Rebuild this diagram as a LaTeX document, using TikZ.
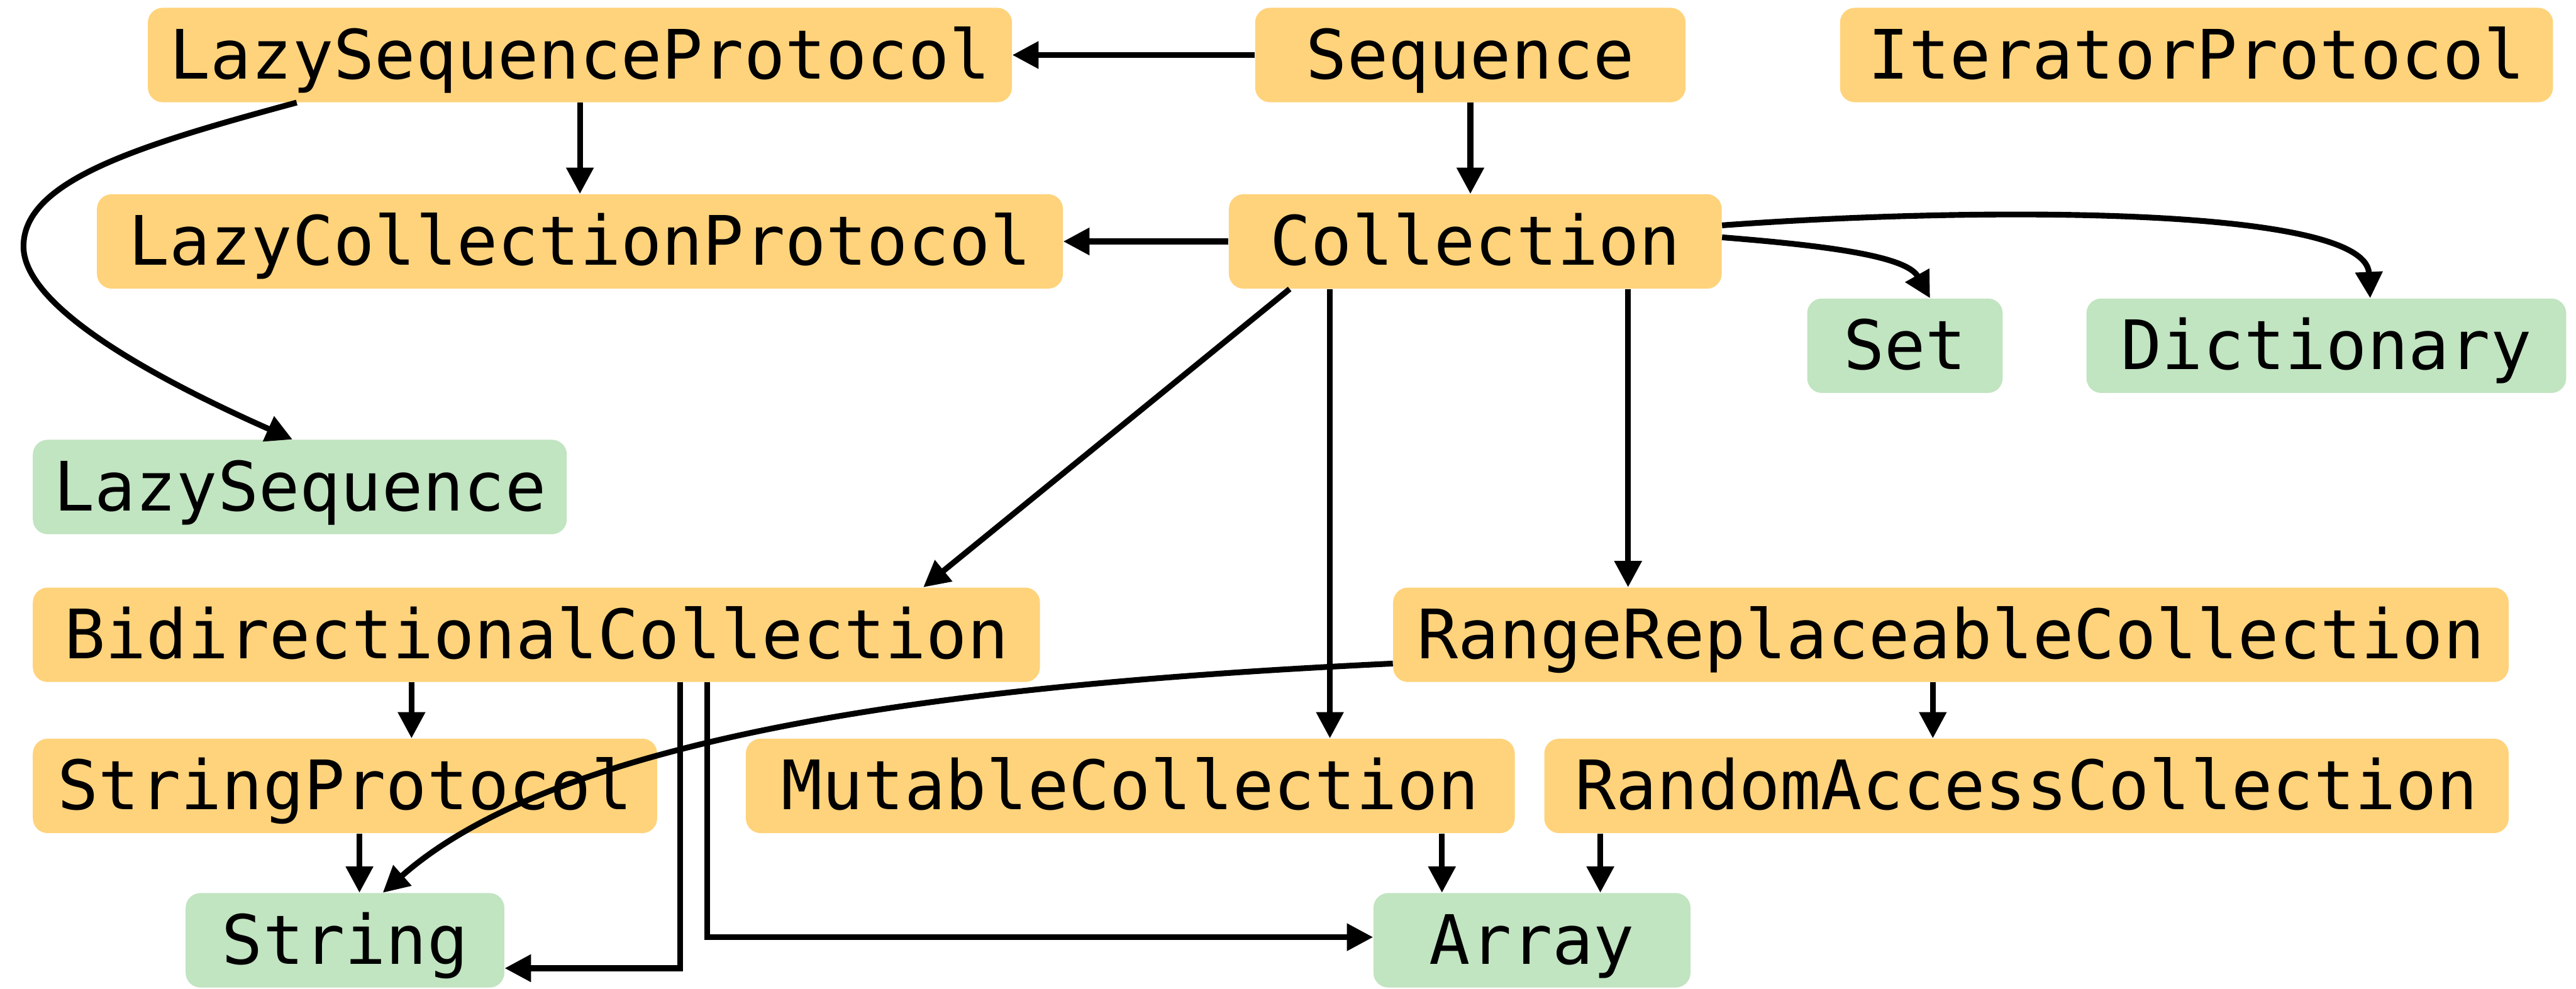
\documentclass[tikz,border=0pt]{standalone}
\usepackage{fontspec}
\setmainfont{DejaVu Sans Mono}
\usetikzlibrary{arrows.meta}
\definecolor{protoc}{HTML}{FFD37B}
\definecolor{typec}{HTML}{C1E4C1}
\begin{document}
\begin{tikzpicture}[x=1pt,y=-1pt,
  box/.style={rounded corners=9pt, inner sep=0pt, minimum height=57.5pt,
    text height=32pt, text depth=3pt, font=\fontsize{41.5pt}{48pt}\selectfont},
  proto/.style={box, fill=protoc},
  concrete/.style={box, fill=typec},
  edge/.style={draw=black, line width=3.5pt, -{Triangle[length=16pt,width=16pt]}}]
\useasboundingbox (0,0) rectangle (1568,601.9);
% nodes
\node[proto, minimum width=526pt] (lsp) at (353,33.5) {LazySequenceProtocol};
\node[proto, minimum width=262pt] (seq) at (895,33.5) {Sequence};
\node[proto, minimum width=434pt] (itp) at (1337,33.5) {IteratorProtocol};
\node[proto, minimum width=588pt] (lcp) at (353,147) {LazyCollectionProtocol};
\node[proto, minimum width=300pt] (col) at (898,147) {Collection};
\node[concrete, minimum width=119pt] (set) at (1159.5,210.5) {Set};
\node[concrete, minimum width=292pt] (dict) at (1416,210.5) {Dictionary};
\node[concrete, minimum width=325pt] (lseq) at (182.5,296.5) {LazySequence};
\node[proto, minimum width=613pt] (bidi) at (326.5,386.5) {BidirectionalCollection};
\node[proto, minimum width=679pt] (rrc) at (1187.5,386.5) {RangeReplaceableCollection};
\node[proto, minimum width=380pt] (sp) at (210,478.5) {StringProtocol};
\node[proto, minimum width=468pt] (mc) at (688,478.5) {MutableCollection};
\node[proto, minimum width=587pt] (rac) at (1233.5,478.5) {RandomAccessCollection};
\node[concrete, minimum width=194pt] (str) at (210,572.5) {String};
\node[concrete, minimum width=193pt] (arr) at (932.5,572.5) {Array};
\coordinate (lbend) at (14.3,150);
% edges
\draw[edge] (seq.west) -- (lsp.east);
\draw[edge] (seq.south) -- (seq.south |- col.north);
\draw[edge] (lsp.south) -- (lcp.north);
\draw[edge] ([xshift=-172.4pt]lsp.south) .. controls (84,88.6) and (14.3,110) .. (lbend)
  .. controls (14.3,185) and (85.7,226.6) .. ([xshift=-4.5pt]lseq.north);
\draw[edge] (col.west) -- (lcp.east);
\draw[edge] ([yshift=2.5pt]col.east) .. controls (1108,149.3) and (1160.1,155.4) .. ([xshift=15.3pt]set.north);
\draw[edge] ([yshift=9.8pt]col.east) .. controls (1200,126) and (1440,125) .. ([xshift=26.7pt]dict.north);
\draw[edge] ([xshift=-113pt]col.south) -- ([xshift=235.5pt]bidi.north);
\draw[edge] ([xshift=-88.5pt]col.south) -- ([xshift=-88.5pt]col.south |- mc.north);
\draw[edge] ([xshift=93pt]col.south) -- ([xshift=93pt]col.south |- rrc.north);
\draw[edge] ([xshift=-11pt]rrc.south) -- ([xshift=-11pt]rrc.south |- rac.north);
\draw[edge] ([yshift=-17.5pt]rrc.west) .. controls (620,415) and (350,440) .. ([xshift=23pt]str.north);
\draw[edge] ([xshift=-76pt]bidi.south) -- ([xshift=-76pt]bidi.south |- sp.north);
\draw[edge] ([xshift=87.5pt]bidi.south) |- ([yshift=-17pt]str.east);
\draw[edge] ([xshift=104pt]bidi.south) |- ([yshift=1.9pt]arr.west);
\draw[edge] ([xshift=8.8pt]sp.south) -- ([xshift=8.8pt]sp.south |- str.north);
\draw[edge] ([xshift=189.7pt]mc.south) -- ([xshift=189.7pt]mc.south |- arr.north);
\draw[edge] ([xshift=-259.4pt]rac.south) -- ([xshift=-259.4pt]rac.south |- arr.north);
\end{tikzpicture}
\end{document}
